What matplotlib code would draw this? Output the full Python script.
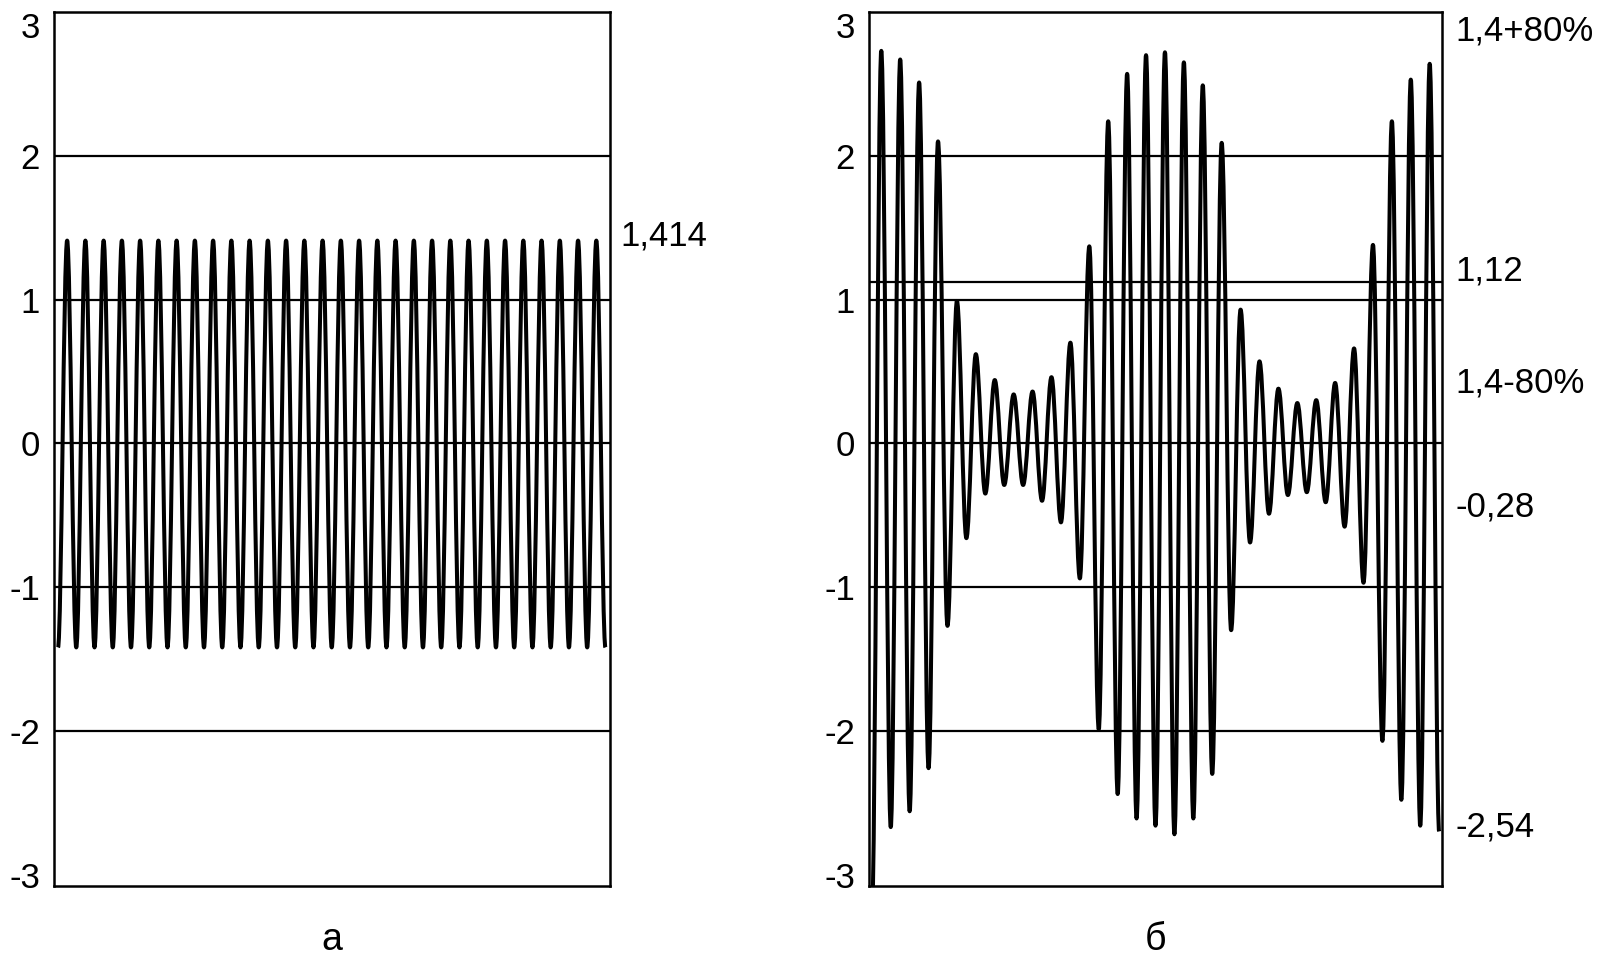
import numpy as np
import matplotlib
matplotlib.use('Agg')
import matplotlib.pyplot as plt
from matplotlib.path import Path
from matplotlib.patches import PathPatch

plt.rcParams['font.family'] = ['Liberation Sans', 'DejaVu Sans']

# panel a: constant amplitude wave, peaks and troughs
a_troughs = [-1.42, -1.42, -1.42, -1.42, -1.42, -1.42, -1.42, -1.42, -1.42, -1.42,
             -1.42, -1.42, -1.42, -1.42, -1.42, -1.42, -1.42, -1.42, -1.42, -1.42,
             -1.42, -1.42, -1.42, -1.42, -1.42, -1.42, -1.42, -1.42, -1.42, -1.42,
             -1.42]
a_peaks = [1.41, 1.41, 1.41, 1.41, 1.41, 1.41, 1.41, 1.41, 1.41, 1.41,
           1.41, 1.41, 1.41, 1.41, 1.41, 1.41, 1.41, 1.41, 1.41, 1.41,
           1.41, 1.41, 1.41, 1.41, 1.41, 1.41, 1.41, 1.41, 1.41, 1.41]

# panel b: modulated wave
b_troughs = [-3.30, -2.67, -2.56, -2.26, -1.27, -0.66, -0.35, -0.29, -0.29, -0.40,
             -0.55, -0.94, -1.99, -2.44, -2.61, -2.66, -2.72, -2.61, -2.30, -1.30,
             -0.69, -0.49, -0.36, -0.34, -0.41, -0.58, -0.97, -2.07, -2.48, -2.66,
             -2.70]
b_peaks = [2.73, 2.67, 2.51, 2.10, 0.99, 0.62, 0.44, 0.34, 0.36, 0.46,
           0.70, 1.37, 2.24, 2.57, 2.70, 2.72, 2.65, 2.49, 2.09, 0.93,
           0.57, 0.38, 0.28, 0.30, 0.42, 0.66, 1.38, 2.24, 2.53, 2.64]

y_ticks = [-3, -2, -1, 0, 1, 2, 3]
y_ticklabels = ['-3', '-2', '-1', '0', '1', '2', '3']
a_levels = [-2, -1, 0, 1, 2]
b_levels = [-2, -1, 0, 1, 1.12, 2]

a_side = [(1.44, '1,414')]
b_side = [(2.87, '1,4+80%'), (1.20, '1,12'), (0.42, '1,4-80%'),
          (-0.44, '-0,28'), (-2.67, '-2,54')]


def extrema(troughs, peaks):
    # trough, peak, trough, ... one per half period
    vals = []
    for i, t in enumerate(troughs):
        vals.append(t)
        if i < len(peaks):
            vals.append(peaks[i])
    return np.arange(len(vals)), np.array(vals)


def wave_patch(x, y, k=0.364):
    verts = [(x[0], y[0])]
    codes = [Path.MOVETO]
    for i in range(1, len(x)):
        dx = x[i] - x[i - 1]
        verts += [(x[i - 1] + k * dx, y[i - 1]), (x[i] - k * dx, y[i]), (x[i], y[i])]
        codes += [Path.CURVE4] * 3
    return PathPatch(Path(verts, codes), fill=False, edgecolor='black',
                     lw=2.9, joinstyle='round', zorder=3)


def setup(ax, levels, xlim):
    ax.set_xlim(*xlim)
    ax.set_ylim(-3.08, 2.99)
    for lv in levels:
        ax.axhline(lv, color='black', lw=1.6, zorder=2)
    ax.set_xticks([])
    ax.set_yticks(y_ticks)
    ax.set_yticklabels(y_ticklabels)
    ax.tick_params(axis='y', length=0, pad=10, labelsize=25)
    ax.get_yticklabels()[-1].set_va('top')
    for s in ax.spines.values():
        s.set_linewidth(1.8)


fig = plt.figure(figsize=(16.09, 9.71), dpi=100)
ax1 = fig.add_axes([54 / 1609, 0.0875, 556 / 1609, 0.9001])
ax2 = fig.add_axes([869 / 1609, 0.0875, 573 / 1609, 0.9001])

xa, ya = extrema(a_troughs, a_peaks)
setup(ax1, a_levels, (-0.44, 60.5))
ax1.add_patch(wave_patch(xa, ya))

xb, yb = extrema(b_troughs, b_peaks)
setup(ax2, b_levels, (-0.3, 60.3))
ax2.add_patch(wave_patch(xb, yb))

for ax, side, dx in [(ax1, a_side, 0.019), (ax2, b_side, 0.023)]:
    for yv, txt in side:
        ax.text(1 + dx, yv, txt, transform=ax.get_yaxis_transform(),
                ha='left', va='center', fontsize=25)

ax1.text(0.5, -0.062, 'а', transform=ax1.transAxes, ha='center', va='center', fontsize=27)
ax2.text(0.5, -0.062, 'б', transform=ax2.transAxes, ha='center', va='center', fontsize=27)

fig.savefig('out.png', dpi=100)
